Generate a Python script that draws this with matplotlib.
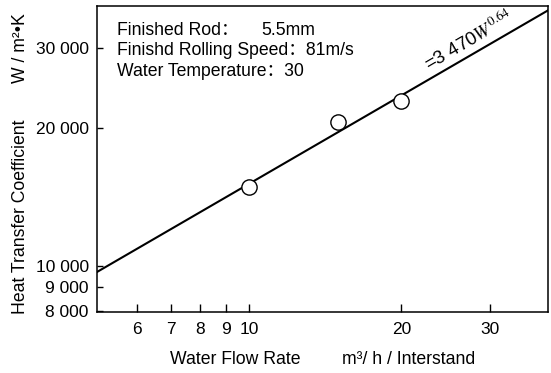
import numpy as np
import matplotlib
matplotlib.use('Agg')
import matplotlib.pyplot as plt
from matplotlib.ticker import FixedLocator, FixedFormatter, NullLocator

plt.rcParams['font.family'] = ['Liberation Sans', 'Noto Sans CJK SC']
plt.rcParams['font.size'] = 12.7
plt.rcParams['mathtext.fontset'] = 'stix'

# 測定値（水量 m3/h、熱伝達係数 W/m2K）
flow = [10, 15, 20]
htc = [14900, 20700, 23000]

# 回帰式 h = 3470 W^0.64
coef = 3470
expo = 0.64

x_ticks = [6, 7, 8, 9, 10, 20, 30]
y_ticks = [8000, 9000, 10000, 20000, 30000]
y_labels = ['8 000', '9 000', '10 000', '20 000', '30 000']

fig = plt.figure(figsize=(5.51, 3.73), dpi=100)
ax = fig.add_axes([0.176, 0.1635, 0.8186, 0.8205])
ax.set_xscale('log')
ax.set_yscale('log')
ax.set_xlim(5, 39)
ax.set_ylim(7950, 37000)

w = np.linspace(5, 39, 200)
ax.plot(w, coef * w ** expo, color='black', lw=1.5)
ax.plot(flow, htc, 'o', ms=11, mfc='white', mec='black', mew=1.0)

ax.xaxis.set_major_locator(FixedLocator(x_ticks))
ax.xaxis.set_major_formatter(FixedFormatter([str(v) for v in x_ticks]))
ax.xaxis.set_minor_locator(NullLocator())
ax.yaxis.set_major_locator(FixedLocator(y_ticks))
ax.yaxis.set_major_formatter(FixedFormatter(y_labels))
ax.yaxis.set_minor_locator(NullLocator())
ax.tick_params(axis='x', direction='in', length=6, width=1, pad=7, labelsize=12.5)
ax.tick_params(axis='y', direction='in', length=4, width=1, pad=6, labelsize=12.5)
for s in ax.spines.values():
    s.set_linewidth(1.1)

# 条件の注記
ax.text(0.045, 0.92, 'Finished Rod：', transform=ax.transAxes, va='center')
ax.text(0.365, 0.92, '5.5mm', transform=ax.transAxes, va='center')
ax.text(0.045, 0.855, 'Finishd Rolling Speed：81m/s', transform=ax.transAxes, va='center')
ax.text(0.045, 0.785, 'Water Temperature：30', transform=ax.transAxes, va='center')

# 回帰式のラベル（直線に沿わせる）
x0 = 23.2
p1 = ax.transData.transform((x0, coef * x0 ** expo))
p2 = ax.transData.transform((x0 * 1.5, coef * (x0 * 1.5) ** expo))
ang = np.degrees(np.arctan2(p2[1] - p1[1], p2[0] - p1[0]))
ax.annotate('=3 470$W^{0.64}$', xy=(x0, coef * x0 ** expo), xytext=(-2, 1),
            textcoords='offset points', rotation=ang, rotation_mode='anchor',
            ha='left', va='bottom', fontsize=13.5)

fig.text(0.037, 0.42, 'Heat Transfer Coefficient', rotation=90, ha='center', va='center')
fig.text(0.037, 0.87, 'W / m²•K', rotation=90, ha='center', va='center')
fig.text(0.427, 0.035, 'Water Flow Rate', ha='center', va='center')
fig.text(0.741, 0.035, 'm³/ h / Interstand', ha='center', va='center')

fig.savefig('out.png', dpi=100)
